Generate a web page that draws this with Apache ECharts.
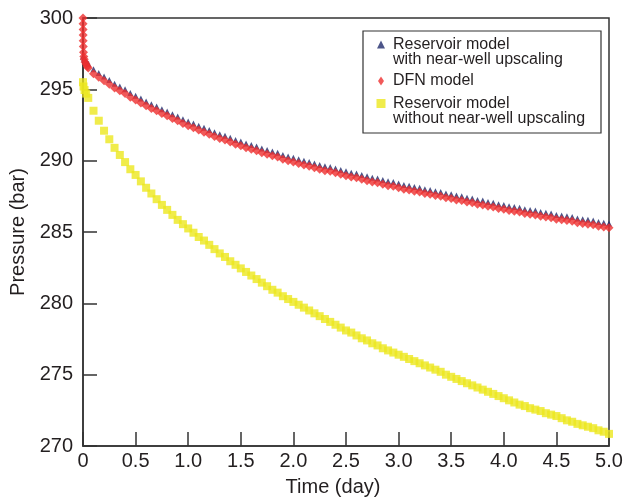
<!DOCTYPE html>
<html>
<head>
<meta charset="utf-8">
<script src="https://cdn.jsdelivr.net/npm/echarts@6/dist/echarts.min.js"></script>
<style>
html,body{margin:0;padding:0;background:#fff;}
#chart{width:626px;height:502px;}
</style>
</head>
<body>
<div id="chart"></div>
<script>
// Time samples (day)
var times = [0.05,0.10,0.15,0.20,0.25,0.30,0.35,0.40,0.45,0.50,
0.55,0.60,0.65,0.70,0.75,0.80,0.85,0.90,0.95,1.00,
1.05,1.10,1.15,1.20,1.25,1.30,1.35,1.40,1.45,1.50,
1.55,1.60,1.65,1.70,1.75,1.80,1.85,1.90,1.95,2.00,
2.05,2.10,2.15,2.20,2.25,2.30,2.35,2.40,2.45,2.50,
2.55,2.60,2.65,2.70,2.75,2.80,2.85,2.90,2.95,3.00,
3.05,3.10,3.15,3.20,3.25,3.30,3.35,3.40,3.45,3.50,
3.55,3.60,3.65,3.70,3.75,3.80,3.85,3.90,3.95,4.00,
4.05,4.10,4.15,4.20,4.25,4.30,4.35,4.40,4.45,4.50,
4.55,4.60,4.65,4.70,4.75,4.80,4.85,4.90,4.95,5.00];

// Reservoir model with near-well upscaling
var blueEarlyT = [0, 0.01, 0.02, 0.03, 0.04];
var blueEarlyP = [297.3, 297.15, 297.05, 296.95, 296.85];
var blueP = [296.8,296.4,296.15,295.9,295.65,295.4,295.2,295.0,294.75,294.55,
294.35,294.15,293.95,293.8,293.6,293.45,293.25,293.1,292.9,292.75,
292.6,292.45,292.3,292.15,292.0,291.85,291.75,291.6,291.45,291.35,
291.2,291.1,291.0,290.85,290.75,290.65,290.55,290.4,290.3,290.2,
290.1,290.0,289.9,289.8,289.7,289.6,289.55,289.45,289.35,289.25,
289.15,289.1,289.0,288.9,288.8,288.75,288.65,288.55,288.5,288.4,
288.3,288.25,288.15,288.1,288.0,287.95,287.85,287.8,287.7,287.65,
287.55,287.5,287.4,287.35,287.25,287.2,287.1,287.05,286.95,286.9,
286.8,286.75,286.7,286.6,286.55,286.5,286.4,286.35,286.3,286.2,
286.15,286.1,286.05,285.95,285.9,285.85,285.8,285.7,285.65,285.6];

// DFN model
var redEarlyT = [0, 0.0005, 0.001, 0.0015, 0.002, 0.003, 0.005, 0.008, 0.012, 0.02, 0.03, 0.04];
var redEarlyP = [300.0, 299.6, 299.2, 298.8, 298.4, 298.0, 297.6, 297.3, 297.1, 296.9, 296.75, 296.6];
var redP = [296.5,296.1,295.85,295.6,295.35,295.1,294.9,294.7,294.45,294.25,
294.05,293.85,293.65,293.5,293.3,293.15,292.95,292.8,292.6,292.45,
292.3,292.15,292.0,291.85,291.7,291.55,291.45,291.3,291.15,291.05,
290.9,290.8,290.7,290.55,290.45,290.35,290.25,290.1,290.0,289.9,
289.8,289.7,289.6,289.5,289.4,289.3,289.25,289.15,289.05,288.95,
288.85,288.8,288.7,288.6,288.5,288.45,288.35,288.25,288.2,288.1,
288.0,287.95,287.85,287.8,287.7,287.65,287.55,287.5,287.4,287.35,
287.25,287.2,287.1,287.05,286.95,286.9,286.8,286.75,286.65,286.6,
286.5,286.45,286.4,286.3,286.25,286.2,286.1,286.05,286.0,285.9,
285.85,285.8,285.75,285.65,285.6,285.55,285.5,285.4,285.35,285.3];

// Reservoir model without near-well upscaling
var yellowEarlyT = [0, 0.005, 0.015, 0.03];
var yellowEarlyP = [295.5, 295.2, 294.95, 294.7];
var yellowP = [294.4,293.5,292.8,292.1,291.5,290.9,290.4,289.9,289.4,289.0,
288.55,288.1,287.7,287.3,286.9,286.55,286.2,285.85,285.55,285.25,
284.95,284.65,284.4,284.1,283.8,283.5,283.25,282.95,282.7,282.45,
282.2,281.95,281.7,281.45,281.2,280.95,280.75,280.5,280.3,280.1,
279.9,279.7,279.5,279.3,279.1,278.9,278.7,278.5,278.3,278.1,
277.95,277.75,277.55,277.4,277.2,277.05,276.85,276.7,276.55,276.4,
276.25,276.1,275.95,275.8,275.65,275.5,275.35,275.2,275.0,274.85,
274.7,274.55,274.4,274.25,274.1,273.95,273.8,273.65,273.5,273.35,
273.2,273.05,272.9,272.8,272.65,272.55,272.45,272.3,272.2,272.1,
271.95,271.8,271.7,271.55,271.45,271.35,271.25,271.1,271.0,270.85];

var nameBlue = 'Reservoir model\nwith near-well upscaling';
var nameRed = 'DFN model';
var nameYellow = 'Reservoir model\nwithout near-well upscaling';

var xTicks = {min: 0, max: 5, interval: 0.5};
var yTicks = {min: 270, max: 300, interval: 5};

function pairs(et, ep, t, p) {
  var out = [];
  for (var i = 0; i < et.length; i++) out.push([et[i], ep[i]]);
  for (var j = 0; j < t.length; j++) out.push([t[j], p[j]]);
  return out;
}

var FONT = "'Liberation Sans', Arial, Helvetica, sans-serif";
var TXT = '#231f20';
var AX = '#333333';
// put a blank line above two-line names so the icon sits beside the first line
function firstLineFmt(n) { return ' \n' + n; }

var chart = echarts.init(document.getElementById('chart'), null, {renderer: 'canvas'});
chart.setOption({
  animation: false,
  backgroundColor: '#ffffff',
  grid: {left: 83, right: 17, top: 18, bottom: 50, show: true, borderColor: AX, borderWidth: 1.5, backgroundColor: 'transparent'},
  xAxis: {
    type: 'value', min: xTicks.min, max: xTicks.max, interval: xTicks.interval,
    name: 'Time (day)', nameLocation: 'middle', nameGap: 31,
    nameTextStyle: {fontFamily: FONT, fontSize: 20, color: TXT, padding: [0, 26, 0, 0]},
    axisLine: {show: true, lineStyle: {color: AX, width: 1.5}},
    axisTick: {show: true, inside: true, length: 14, lineStyle: {color: AX, width: 1.5}},
    splitLine: {show: false},
    axisLabel: {fontFamily: FONT, fontSize: 20, color: TXT, margin: 5,
      formatter: function (v) { return v === 0 ? '0' : v.toFixed(1); }}
  },
  yAxis: {
    type: 'value', min: yTicks.min, max: yTicks.max, interval: yTicks.interval,
    name: 'Pressure (bar)', nameLocation: 'middle', nameGap: 53,
    nameTextStyle: {fontFamily: FONT, fontSize: 20, color: TXT},
    axisLine: {show: true, lineStyle: {color: AX, width: 1.5}},
    axisTick: {show: true, inside: true, length: 14, lineStyle: {color: AX, width: 1.5}},
    splitLine: {show: false},
    axisLabel: {fontFamily: FONT, fontSize: 20, color: TXT, margin: 10}
  },
  legend: [
    {show: true, left: 377, top: 21, padding: 0, itemWidth: 8, itemHeight: 8, selectedMode: false,
     data: [{name: nameBlue, icon: 'triangle'}], formatter: firstLineFmt,
     textStyle: {fontFamily: FONT, fontSize: 16, lineHeight: 15.5, color: TXT, padding: [0, 0, 0, 3]}},
    {show: true, left: 378, top: 73, padding: 0, itemWidth: 6, itemHeight: 9, selectedMode: false,
     data: [{name: nameRed, icon: 'diamond'}],
     textStyle: {fontFamily: FONT, fontSize: 16, lineHeight: 15.5, color: TXT, padding: [0, 0, 0, 4]}},
    {show: true, left: 376.5, top: 80, padding: 0, itemWidth: 9, itemHeight: 9, selectedMode: false,
     data: [{name: nameYellow, icon: 'rect'}], formatter: firstLineFmt,
     textStyle: {fontFamily: FONT, fontSize: 16, lineHeight: 15.5, color: TXT, padding: [0, 0, 0, 2.5]}}
  ],
  graphic: [{
    type: 'rect', z: 0, silent: true,
    shape: {x: 363, y: 31, width: 238, height: 102},
    style: {fill: '#ffffff', stroke: AX, lineWidth: 1.2}
  }],
  series: [
    {name: nameBlue, type: 'scatter', symbol: 'triangle', symbolSize: [6, 6],
     itemStyle: {color: '#1f2a6c'}, z: 2,
     data: pairs(blueEarlyT, blueEarlyP, times, blueP)},
    {name: nameRed, type: 'scatter', symbol: 'diamond', symbolSize: [9, 9],
     itemStyle: {color: '#ee3030'}, z: 3,
     data: pairs(redEarlyT, redEarlyP, times, redP)},
    {name: nameYellow, type: 'scatter', symbol: 'rect', symbolSize: [8, 8],
     itemStyle: {color: '#ece71e'}, z: 4,
     data: pairs(yellowEarlyT, yellowEarlyP, times, yellowP)}
  ]
});
</script>
</body>
</html>
